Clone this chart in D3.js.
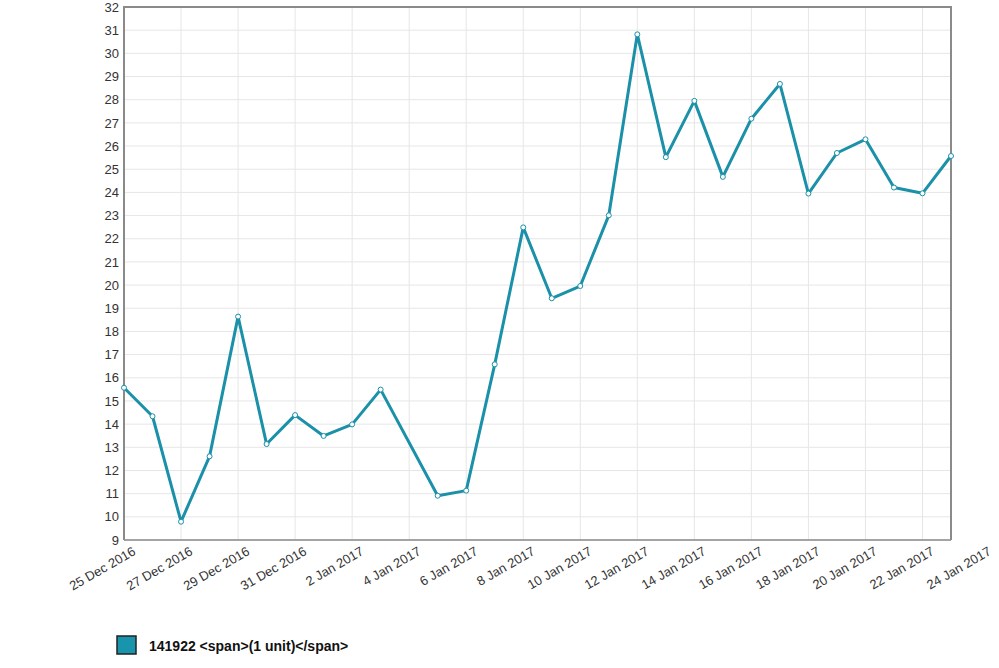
<!DOCTYPE html>
<html>
<head>
<meta charset="utf-8">
<script src="https://cdn.jsdelivr.net/npm/d3@7"></script>
<style>
  html, body { margin: 0; padding: 0; background: #fff; }
  svg { display: block; font-family: "Liberation Sans", Arial, sans-serif; }
</style>
</head>
<body>
<svg id="chart" width="999" height="668"></svg>
<script>
// ---- data ----
const dates = ["2016-12-25","2016-12-26","2016-12-27","2016-12-28","2016-12-29","2016-12-30","2016-12-31",
  "2017-01-01","2017-01-02","2017-01-03","2017-01-05","2017-01-06","2017-01-07","2017-01-08","2017-01-09",
  "2017-01-10","2017-01-11","2017-01-12","2017-01-13","2017-01-14","2017-01-15","2017-01-16","2017-01-17",
  "2017-01-18","2017-01-19","2017-01-20","2017-01-21","2017-01-22","2017-01-23"];
const values = [15.57,14.34,9.79,12.61,18.64,13.14,14.39,13.49,13.99,15.49,10.91,11.13,16.58,22.49,19.43,
  19.96,23.01,30.82,25.52,27.95,24.67,27.18,28.68,23.95,25.70,26.29,24.21,23.96,25.57];
const xTickDates = ["2016-12-25","2016-12-27","2016-12-29","2016-12-31","2017-01-02","2017-01-04","2017-01-06",
  "2017-01-08","2017-01-10","2017-01-12","2017-01-14","2017-01-16","2017-01-18","2017-01-20","2017-01-22","2017-01-24"];
const xTickLabels = ["25 Dec 2016","27 Dec 2016","29 Dec 2016","31 Dec 2016","2 Jan 2017","4 Jan 2017","6 Jan 2017",
  "8 Jan 2017","10 Jan 2017","12 Jan 2017","14 Jan 2017","16 Jan 2017","18 Jan 2017","20 Jan 2017","22 Jan 2017","24 Jan 2017"];
const yTicks = d3.range(9, 33);
const seriesName = "141922 <span>(1 unit)</span>";
const xDomain = ["2016-12-25","2017-01-23"];
const yDomain = [9, 32];

// ---- layout ----
const parse = d3.utcParse("%Y-%m-%d");
const L = 124, R = 951, T = 7, B = 540;
const color = "#1a90a9";
const svg = d3.select("#chart");

const x = d3.scaleUtc().domain(xDomain.map(parse)).range([L, R]);
const y = d3.scaleLinear().domain(yDomain).range([B, T]);

const data = dates.map((d, i) => ({ date: parse(d), value: values[i] }));
const tickDates = xTickDates.map(parse);

// grid
const grid = svg.append("g");
grid.selectAll("line.h").data(yTicks).join("line")
  .attr("x1", L).attr("x2", R).attr("y1", d => y(d)).attr("y2", d => y(d))
  .attr("stroke", "#e6e6e6").attr("stroke-width", 1);
grid.selectAll("line.v").data(tickDates.filter(d => x(d) <= R + 0.5)).join("line")
  .attr("x1", d => x(d)).attr("x2", d => x(d)).attr("y1", T).attr("y2", B)
  .attr("stroke", "#e6e6e6").attr("stroke-width", 1);

// frame
svg.append("path")
  .attr("d", `M${L},${B}V${T}H${R}V${B}`)
  .attr("fill", "none").attr("stroke", "#8a8a8a").attr("stroke-width", 2);
svg.append("line").attr("x1", L).attr("x2", R).attr("y1", B).attr("y2", B)
  .attr("stroke", "#8a8a8a").attr("stroke-width", 1.5);

// y axis labels
const yAxis = svg.append("g").attr("transform", `translate(${L},0)`)
  .call(d3.axisLeft(y).tickValues(yTicks).tickSize(0).tickPadding(5).tickFormat(d3.format("d")));
yAxis.select(".domain").remove();
yAxis.selectAll("text").attr("font-size", 13).attr("fill", "#333")
  .attr("font-family", "'Liberation Sans', Arial, sans-serif");

// x axis labels
const xAxis = svg.append("g").attr("transform", `translate(0,${B})`)
  .call(d3.axisBottom(x).tickValues(tickDates).tickSize(0)
    .tickFormat((d, i) => xTickLabels[i]));
xAxis.select(".domain").remove();
xAxis.selectAll("text")
  .attr("font-size", 13).attr("fill", "#333")
  .attr("font-family", "'Liberation Sans', Arial, sans-serif")
  .attr("text-anchor", "end")
  .attr("y", 0).attr("dy", 0)
  .attr("transform", "translate(12,14) rotate(-30)");

// line
const line = d3.line().x(d => x(d.date)).y(d => y(d.value));
svg.append("path").datum(data)
  .attr("d", line).attr("fill", "none")
  .attr("stroke", color).attr("stroke-width", 3)
  .attr("stroke-linejoin", "round");

svg.append("g").selectAll("circle").data(data).join("circle")
  .attr("cx", d => x(d.date)).attr("cy", d => y(d.value)).attr("r", 2.5)
  .attr("fill", "#fff").attr("stroke", color).attr("stroke-width", 1);

// legend
svg.append("rect").attr("x", 117).attr("y", 636).attr("width", 19).attr("height", 18)
  .attr("fill", "#1894ad").attr("stroke", "#222").attr("stroke-width", 1.5);
svg.append("text").attr("x", 149).attr("y", 651)
  .attr("font-size", 14).attr("font-weight", "bold").attr("fill", "#111")
  .text(seriesName);
</script>
</body>
</html>
